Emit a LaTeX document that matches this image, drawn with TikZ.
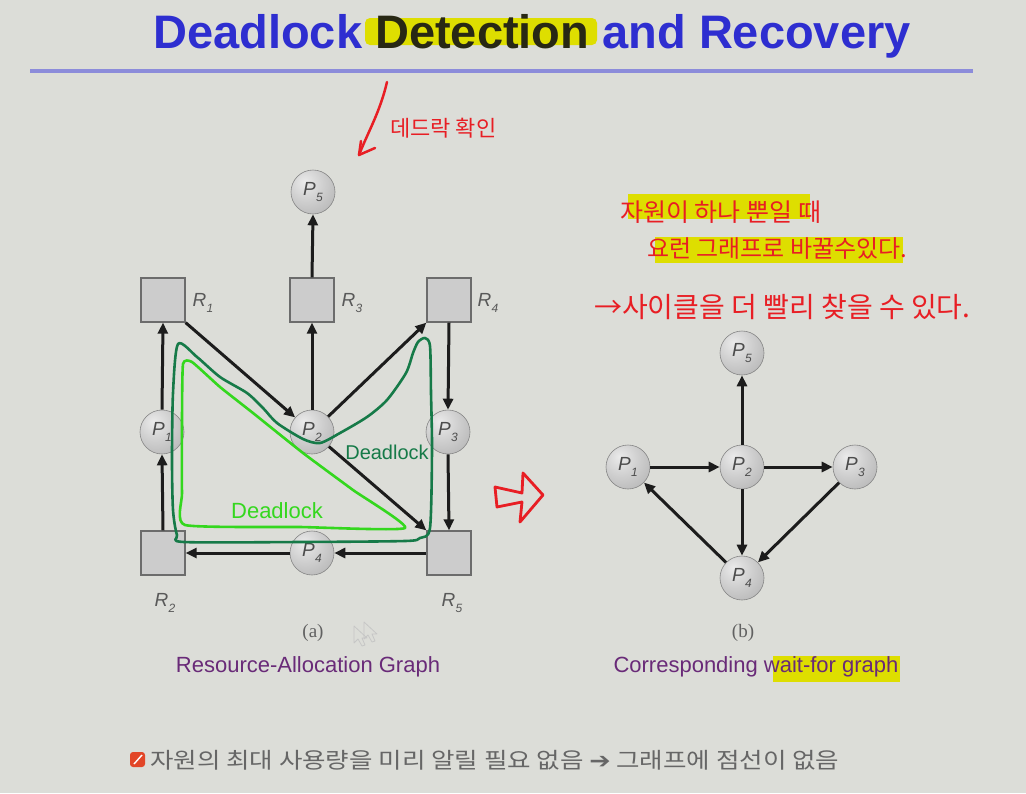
\documentclass[tikz,border=0pt]{standalone}
\usepackage{fontspec}
\setmainfont{Liberation Sans}
\newfontfamily\kr{Noto Sans CJK KR}
\newfontfamily\serifa{Liberation Serif}
\newfontfamily\dejavu{DejaVu Sans}
\usetikzlibrary{arrows.meta}

\definecolor{bg}{RGB}{220,221,216}
\definecolor{titleblue}{RGB}{46,46,208}
\definecolor{titledark}{RGB}{40,40,20}
\definecolor{rulecol}{RGB}{140,140,218}
\definecolor{hl}{RGB}{222,222,0}
\definecolor{pen}{RGB}{232,30,36}
\definecolor{dkgreen}{RGB}{22,122,72}
\definecolor{ltgreen}{RGB}{52,215,30}
\definecolor{capcol}{RGB}{105,42,120}
\definecolor{edgecol}{RGB}{28,28,28}
\definecolor{bullet}{RGB}{226,70,40}

% soft grey sphere for process nodes
\pgfdeclareradialshading{sphere}{\pgfpoint{-10bp}{12bp}}{%
  color(0bp)=(gray!16); color(20bp)=(gray!38); color(40bp)=(gray!58);
  color(52bp)=(gray!75); color(100bp)=(gray!75)}

\newcommand{\fs}[1]{\fontsize{#1}{#1}\selectfont}
\newcommand{\plabel}[2]{{\fs{19}\itshape #1\kern0.3pt\raisebox{-6pt}{\fs{12}#2}}}

\tikzset{
  proc/.style={circle, minimum size=44pt, inner sep=0pt, shading=sphere,
    draw=gray!95, line width=0.6pt, text=black!70},
  res/.style={rectangle, minimum size=44pt, inner sep=0pt, fill=gray!40,
    draw=gray!85!black, line width=1.3pt},
  edge/.style={draw=edgecol, line width=3pt, -{Triangle[length=11pt,width=10pt]}},
  rlabel/.style={text=black!65, inner sep=0pt},
  marker/.style={fill=hl},
  scribble/.style={text=pen, font=\kr\fs{25}, anchor=west, inner sep=0pt},
}

\begin{document}
\begin{tikzpicture}[x=1pt, y=-1pt]
\useasboundingbox (0,0) rectangle (1026,793);
\fill[bg] (0,0) rectangle (1026,793);

% heading
\fill[marker, rounded corners=5pt] (365,18) rectangle (597,45);
\node[anchor=base west, font=\fs{47}\bfseries, text=titleblue, inner sep=0pt] (title)
  at (153,48) {Deadlock {\color{titledark}Detection} and Recovery};
\draw[rulecol, line width=3.5pt] (30,71) -- (973,71);

% resource-allocation graph
\node[proc] (aP5) at (313,192) {\plabel{P}{5}};
\node[res] (R1) at (163,300) {};
\node[res] (R3) at (312,300) {};
\node[res] (R4) at (449,300) {};
\node[proc] (aP1) at (162,432) {\plabel{P}{1}};
\node[proc] (aP2) at (312,432) {\plabel{P}{2}};
\node[proc] (aP3) at (448,432) {\plabel{P}{3}};
\node[res] (R2) at (163,553) {};
\node[proc] (aP4) at (312,553) {\plabel{P}{4}};
\node[res] (R5) at (449,553) {};

\node[rlabel] (lR1) at (203,303) {\plabel{R}{1}};
\node[rlabel] (lR3) at (352,303) {\plabel{R}{3}};
\node[rlabel] (lR4) at (488,303) {\plabel{R}{4}};
\node[rlabel] (lR2) at (165,603) {\plabel{R}{2}};
\node[rlabel] (lR5) at (452,603) {\plabel{R}{5}};

\draw[edge] (R3.north) -- (aP5.south);
\draw[edge] (aP2.north) -- (R3.south);
\draw[edge] (R1.south east) -- (aP2);
\draw[edge] (aP2) -- (R4.south west);
\draw[edge] (aP2) -- (R5.north west);
\draw[edge] (R4.south) -- (aP3.north);
\draw[edge] (aP3.south) -- (R5.north);
\draw[edge] (aP1.north) -- (R1.south);
\draw[edge] (R2.north) -- (aP1.south);
\draw[edge] (R5.west) -- (aP4.east);
\draw[edge] (aP4.west) -- (R2.east);

% hand-drawn cycles
\draw[dkgreen, line width=2.6pt, line join=round] plot[smooth cycle, tension=0.45] coordinates {
  (178,344) (173,393) (172,460) (173,510) (177,535) (184,542) (300,542) (405,541)
  (420,538) (430,528) (432,450) (431,393) (430,346) (425,338) (418,342) (413,353)
  (406,373) (387,400) (367,417) (340,433) (320,443) (303,439) (277,423) (263,408)
  (247,393) (220,377) (197,357)};
\node[text=dkgreen, font=\fs{20}, inner sep=0pt] (dl1) at (387,452) {Deadlock};
\draw[ltgreen, line width=2.6pt, line join=round] plot[smooth cycle, tension=0.3] coordinates {
  (183,364) (192,362) (220,387) (253,413) (303,453) (353,490) (405,528)
  (300,527) (185,525) (182,493) (182,420)};
\node[text=ltgreen, font=\fs{22}, inner sep=0pt] (dl2) at (277,511) {Deadlock};

% wait-for graph
\node[proc] (bP5) at (742,353) {\plabel{P}{5}};
\node[proc] (bP1) at (628,467) {\plabel{P}{1}};
\node[proc] (bP2) at (742,467) {\plabel{P}{2}};
\node[proc] (bP3) at (855,467) {\plabel{P}{3}};
\node[proc] (bP4) at (742,578) {\plabel{P}{4}};

\draw[edge] (bP2) -- (bP5);
\draw[edge] (bP1) -- (bP2);
\draw[edge] (bP2) -- (bP3);
\draw[edge] (bP2) -- (bP4);
\draw[edge] (bP3) -- (bP4);
\draw[edge] (bP4) -- (bP1);

% captions
\node[font=\serifa\fs{19}, text=black!62] (capa) at (313,633) {(a)};
\node[font=\serifa\fs{19}, text=black!62] (capb) at (743,633) {(b)};
\draw[gray!45, line width=0.8pt, line join=round]
  (354,626) -- (354,643) -- (358,639) -- (362,646) -- (365,645) -- (362,638) -- (367,638) -- cycle;
\draw[gray!45, line width=0.8pt, line join=round]
  (364,622) -- (364,639) -- (368,635) -- (372,642) -- (375,641) -- (372,634) -- (377,634) -- cycle;
\node[font=\fs{22}, text=capcol] (cap1) at (308,667) {Resource-Allocation Graph};
\fill[marker] (773,656) rectangle (900,682);
\node[font=\fs{22}, text=capcol] (cap2) at (756,667) {Corresponding wait-for graph};

% red pen notes
\draw[pen, line width=2.5pt, line cap=round, line join=round]
  (387,82) .. controls (380,112) and (368,132) .. (359,155);
\draw[pen, line width=2.5pt, line cap=round, line join=round]
  (361,141) -- (359,155) -- (375,148);
\node[scribble, font=\kr\fs{22}] (note0) at (390,128) {데드락 확인};

\fill[marker] (628,194) rectangle (810,219);
\fill[marker] (655,237) rectangle (903,263);
\node[scribble] (note1) at (620,212) {자원이 하나 뿐일 때};
\node[scribble, font=\kr\fs{24}] (note2) at (647,249) {요런 그래프로 바꿀수있다.};
\node[scribble, font=\kr\fs{28}] (note3) at (594,307) {→사이클을 더 빨리 찾을 수 있다.};

\draw[pen, line width=2.8pt, line join=round]
  (495,487) -- (522,493) -- (523,473) -- (543,495) -- (520,522) -- (522,502) -- (497,507) -- cycle;

% footnote
\fill[bullet, rounded corners=3pt] (130,752) rectangle (145,767);
\draw[white, line width=1.4pt] (134,764) -- (142,755);
\node[anchor=west, font=\kr\fs{22}, text=black!60, inner sep=0pt] (foot) at (150,760)
  {\scalebox{1.16}[1]{자원의 최대 사용량을 미리 알릴 필요 없음 {\dejavu ➔} 그래프에 점선이 없음}};
\end{tikzpicture}
\end{document}
